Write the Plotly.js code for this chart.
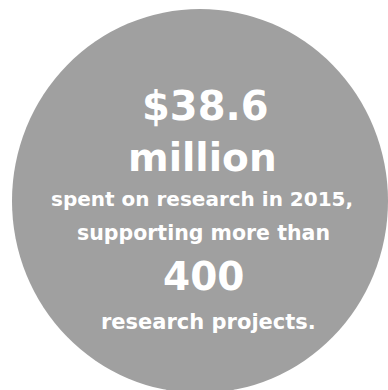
<!DOCTYPE html>
<html>
<head>
<meta charset="utf-8">
<script src="https://cdn.plot.ly/plotly-3.0.1.min.js"></script>
<style>html,body{margin:0;padding:0;background:#fff;}#chart{width:388px;height:390px;}</style>
</head>
<body>
<div id="chart"></div>
<script>
// Text content of the infographic
var amount = "$38.6";
var amountUnit = "million";
var descLine1 = "spent on research in 2015,";
var descLine2 = "supporting more than";
var projectCount = "400";
var projectLabel = "research projects.";

// Layout (pixel-like coordinates, y downward)
var lines = [amount, amountUnit, descLine1, descLine2, projectCount, projectLabel];
var lineX = [205, 202, 202, 203, 203, 208];
var lineY = [106, 157, 199, 233, 276, 322];
var lineSize = [40, 39, 20, 20.5, 39, 21];

var annotations = lines.map(function (t, i) {
  return {
    x: lineX[i], y: lineY[i], xref: 'x', yref: 'y',
    text: '<b>' + t + '</b>',
    showarrow: false,
    xanchor: 'center', yanchor: 'middle',
    font: {family: 'DejaVu Sans, sans-serif', size: lineSize[i], color: '#ffffff'}
  };
});

var layout = {
  width: 388, height: 390,
  margin: {l: 0, r: 0, t: 0, b: 0},
  paper_bgcolor: '#ffffff', plot_bgcolor: '#ffffff',
  xaxis: {range: [0, 388], visible: false, fixedrange: true},
  yaxis: {range: [390, 0], visible: false, fixedrange: true},
  showlegend: false,
  shapes: [{
    type: 'circle', xref: 'x', yref: 'y',
    x0: 12, x1: 388, y0: 9, y1: 393,
    fillcolor: '#a0a0a0', line: {width: 0}, layer: 'below'
  }],
  annotations: annotations
};

Plotly.newPlot('chart', [{x: [], y: [], type: 'scatter', mode: 'markers', hoverinfo: 'skip'}], layout, {displayModeBar: false, staticPlot: true});
</script>
</body>
</html>
